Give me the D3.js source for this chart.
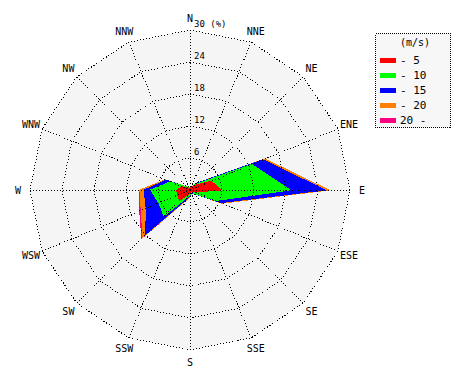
<!DOCTYPE html>
<html>
<head>
<meta charset="utf-8">
<script src="https://cdn.jsdelivr.net/npm/d3@7"></script>
<style>
  html, body { margin: 0; padding: 0; background: #fff; }
  svg text { font-family: "DejaVu Sans Mono", monospace; fill: #000; }
</style>
</head>
<body>
<svg id="chart" width="470" height="380"></svg>
<script>
// ---- data ----
const directions = ["N","NNE","NE","ENE","E","ESE","SE","SSE","S","SSW","SW","WSW","W","WNW","NW","NNW"];
const speedLabels = ["- 5", "- 10", "- 15", "- 20", "20 -"];
const speedColors = ["#ff0000", "#00ff00", "#0000ff", "#ff8000", "#ff0080"];
// frequency (%) per speed class and direction
const speed0to5   = [0.3, 0.5, 1.2, 4.3, 5.9, 1.0, 0.4, 0.3, 0.5, 1.0, 2.8, 2.5, 2.5, 1.5, 0.5, 0.3];
const speed5to10  = [0.1, 0.1, 0.3, 8.2, 12.9, 4.2, 0.4, 0.2, 0.5, 0.6, 4.1, 3.8, 4.9, 2.5, 0.3, 0.1];
const speed10to15 = [0.0, 0.0, 0.3, 2.3, 6.5, 1.0, 0.1, 0.0, 0.2, 0.4, 4.8, 2.6, 1.2, 0.8, 0.0, 0.0];
const speed15to20 = [0.0, 0.0, 0.0, 0.4, 0.7, 0.3, 0.0, 0.0, 0.0, 0.2, 0.8, 1.0, 0.8, 0.2, 0.0, 0.0];
const speed20up   = [0.0, 0.0, 0.0, 0.0, 0.0, 0.0, 0.0, 0.0, 0.0, 0.0, 0.3, 0.3, 0.0, 0.0, 0.0, 0.0];
const ringTicks = [6, 12, 18, 24, 30];
const unitLabel = "(%)";
const legendTitle = "(m/s)";

const series = [speed0to5, speed5to10, speed10to15, speed15to20, speed20up];

// ---- layout ----
const cx = 190, cy = 190, R = 160;
const svg = d3.select("#chart");
const r = d3.scaleLinear().domain([0, 30]).range([0, R]);
const angle = d3.scalePoint().domain(directions).range([0, 2 * Math.PI * 15 / 16]);

const g = svg.append("g").attr("transform", `translate(${cx},${cy})`);

const ringLine = d3.lineRadial()
  .angle(d => angle(d))
  .curve(d3.curveLinearClosed);

g.append("path")
  .attr("d", ringLine.radius(r(30))(directions))
  .attr("fill", "#f5f5f5")
  .attr("stroke", "none");

const cumulative = [];
let acc = directions.map(() => 0);
series.forEach(s => {
  acc = acc.map((v, i) => v + s[i]);
  cumulative.push(acc.slice());
});

const dataLine = d3.lineRadial()
  .angle((d, i) => angle(directions[i]))
  .radius(d => r(d))
  .curve(d3.curveLinearClosed);

for (let k = cumulative.length - 1; k >= 0; k--) {
  g.append("path")
    .attr("d", dataLine(cumulative[k]))
    .attr("fill", speedColors[k])
    .attr("stroke", speedColors[k])
    .attr("stroke-width", 1)
    .attr("shape-rendering", "crispEdges");
}

ringTicks.forEach(t => {
  g.append("path")
    .attr("d", d3.lineRadial().angle(d => angle(d)).radius(r(t)).curve(d3.curveLinearClosed)(directions))
    .attr("fill", "none")
    .attr("stroke", "#000")
    .attr("stroke-width", 1)
    .attr("stroke-dasharray", "1,2")
    .attr("shape-rendering", "crispEdges");
});

directions.forEach(d => {
  const a = angle(d);
  g.append("line")
    .attr("x1", 0).attr("y1", 0)
    .attr("x2", r(30) * Math.sin(a))
    .attr("y2", -r(30) * Math.cos(a))
    .attr("stroke", "#000")
    .attr("stroke-width", 1)
    .attr("stroke-dasharray", "1,2")
    .attr("shape-rendering", "crispEdges");
});

ringTicks.forEach(t => {
  g.append("text")
    .attr("x", 4)
    .attr("y", -r(t) - 3)
    .attr("font-size", 9)
    .text(t === 30 ? `${t} ${unitLabel}` : t);
});

directions.forEach(d => {
  const a = angle(d);
  const rr = 172;
  g.append("text")
    .attr("x", rr * Math.sin(a))
    .attr("y", -rr * Math.cos(a))
    .attr("text-anchor", "middle")
    .attr("dominant-baseline", "central")
    .attr("font-size", 10)
    .text(d);
});

const lg = svg.append("g").attr("transform", "translate(375,33)");
lg.append("rect")
  .attr("x", 0.5).attr("y", 0.5)
  .attr("width", 75).attr("height", 94)
  .attr("fill", "#f7f7f7")
  .attr("stroke", "#000")
  .attr("stroke-dasharray", "1,1")
  .attr("shape-rendering", "crispEdges");
lg.append("text")
  .attr("x", 40).attr("y", 13)
  .attr("text-anchor", "middle")
  .attr("font-size", 10)
  .text(legendTitle);
speedLabels.forEach((lab, i) => {
  const y = 27 + i * 15;
  lg.append("rect")
    .attr("x", 5).attr("y", y - 2)
    .attr("width", 16).attr("height", 5)
    .attr("fill", speedColors[i]);
  lg.append("text")
    .attr("x", 25).attr("y", y)
    .attr("dominant-baseline", "central")
    .attr("font-size", 11)
    .text(lab);
});
</script>
</body>
</html>
